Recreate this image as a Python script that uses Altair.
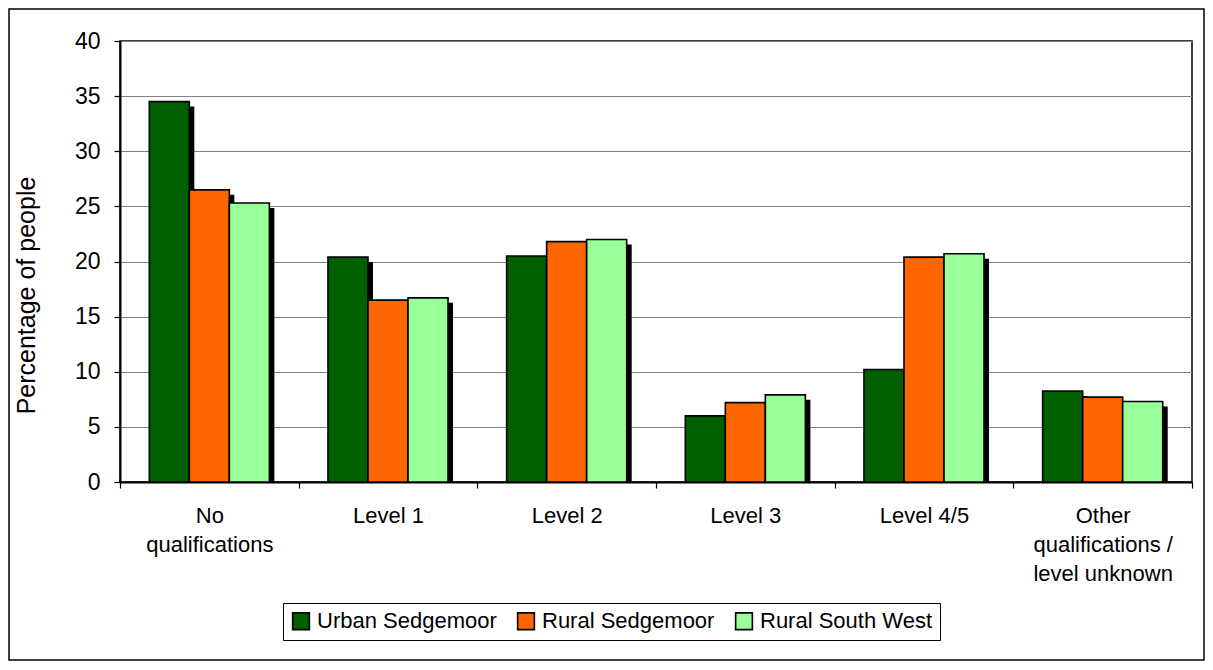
import json
import altair as alt
import pandas as pd

categories = ["No qualifications", "Level 1", "Level 2", "Level 3", "Level 4/5",
              "Other qualifications / level unknown"]
category_lines = [["No", "qualifications"], ["Level 1"], ["Level 2"], ["Level 3"],
                  ["Level 4/5"], ["Other", "qualifications /", "level unknown"]]
series = ["Urban Sedgemoor", "Rural Sedgemoor", "Rural South West"]
urban_sedgemoor = [34.5, 20.4, 20.5, 6.0, 10.2, 8.25]
rural_sedgemoor = [26.5, 16.5, 21.8, 7.2, 20.4, 7.7]
rural_south_west = [25.3, 16.7, 22.0, 7.9, 20.7, 7.3]
colors = ["#005F00", "#FF6600", "#99FF99"]
y_ticks = [0, 5, 10, 15, 20, 25, 30, 35, 40]
x_ticks = [-0.5, 0.5, 1.5, 2.5, 3.5, 4.5, 5.5]

rows = []
for si, (name, vals) in enumerate(zip(series, [urban_sedgemoor, rural_sedgemoor, rural_south_west])):
    for ci, (cat, v) in enumerate(zip(categories, vals)):
        rows.append({"category": cat, "ci": ci, "series": name, "si": si, "value": v})
df = pd.DataFrame(rows)

W = 0.224      # bar width in category units
DX = 0.028     # shadow offset (x, category units)
DY = 0.45      # shadow offset (y, value units)

FONT = "Liberation Sans"
PW, PH = 1072, 441

xscale = alt.Scale(domain=[-0.5, 5.5], nice=False, zero=False)
yscale = alt.Scale(domain=[0, 40], nice=False)

label_expr = json.dumps(category_lines) + "[round(datum.value + 0.5)] || ''"

xaxis = alt.Axis(values=x_ticks, labelExpr=label_expr,
                 labelOffset=PW / 6 / 2, labelFlush=False, labelOverlap=False,
                 labelBound=False, grid=False, title=None, domainColor="black",
                 domainWidth=2, tickColor="black", tickWidth=1.2, tickSize=6,
                 labelPadding=17, labelFontSize=22, labelFont=FONT,
                 labelColor="black", labelLineHeight=29)
yaxis = alt.Axis(values=y_ticks, title="Percentage of people", grid=True,
                 gridColor="#808080", gridWidth=1.2, domainColor="black",
                 domainWidth=2, tickColor="black", tickWidth=1.2, tickSize=6,
                 labelPadding=14, labelFontSize=23, labelFont=FONT,
                 labelColor="black", titleFont=FONT, titleFontSize=25,
                 titleFontWeight="normal", titleColor="black",
                 titleAngle=270, titleAlign="center", titleBaseline="middle",
                 titleX=-94, titleY=254)

base = alt.Chart(df).transform_calculate(
    x0=f"datum.ci + (datum.si - 1.5) * {W}",
    x1=f"datum.ci + (datum.si - 0.5) * {W}",
)

shadow = base.transform_calculate(
    sx0=f"datum.x0 + {DX}",
    sx1=f"datum.x1 + {DX}",
    sy=f"datum.value - {DY}",
).mark_bar(color="black").encode(
    x=alt.X("sx0:Q", scale=xscale, axis=xaxis),
    x2="sx1:Q",
    y=alt.Y("sy:Q", scale=yscale, axis=yaxis),
    y2=alt.datum(0),
)

bars = base.mark_bar(stroke="black", strokeWidth=1.6).encode(
    x=alt.X("x0:Q", scale=xscale, axis=xaxis),
    x2="x1:Q",
    y=alt.Y("value:Q", scale=yscale, axis=yaxis),
    y2=alt.datum(0),
    color=alt.Color("series:N", scale=alt.Scale(domain=series, range=colors),
                    legend=alt.Legend(title=None, orient="none", legendX=163, legendY=562,
                                      direction="horizontal", symbolType="square",
                                      symbolSize=280, symbolStrokeColor="black",
                                      symbolStrokeWidth=1.6, labelFont=FONT,
                                      labelFontSize=22, labelColor="black", labelOffset=5,
                                      labelLimit=400, columnPadding=17,
                                      strokeColor="black", padding=7,
                                      fillColor="white")),
)

border = alt.Chart(pd.DataFrame({"a": [0]})).mark_rect(
    fill=None, stroke="black", strokeWidth=1.5
).encode(x=alt.value(-111), x2=alt.value(1084), y=alt.value(-32), y2=alt.value(619))

chart = alt.layer(border, shadow, bars).properties(
    width=PW, height=PH,
    autosize=alt.AutoSizeParams(type="none"),
    padding={"left": 112, "top": 33, "right": 13, "bottom": 180},
    background="white",
).configure_view(stroke="black", strokeWidth=1.5)

chart.save("out.html", embed_options={"renderer": "svg", "actions": False})
